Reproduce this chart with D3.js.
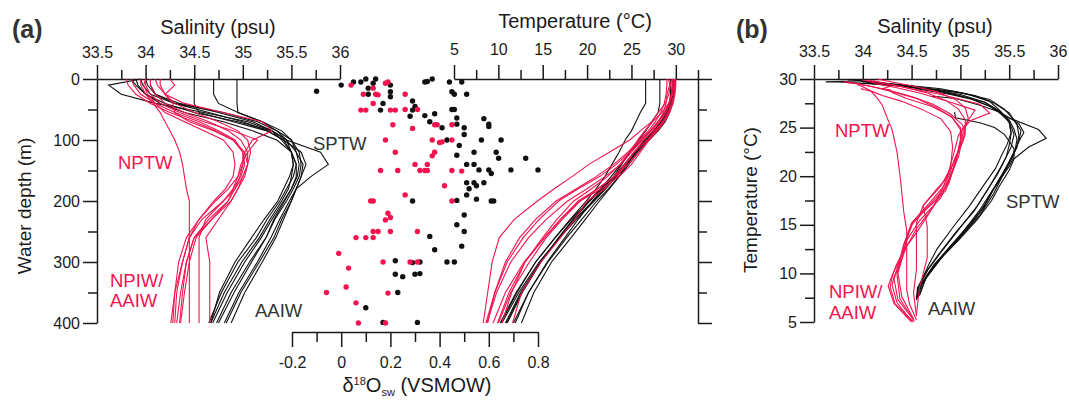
<!DOCTYPE html>
<html>
<head>
<meta charset="utf-8">
<script src="https://cdn.jsdelivr.net/npm/d3@7"></script>
<style>
  body { margin: 0; background: #fff; }
  svg text { font-family: "Liberation Sans", Arial, sans-serif; }
</style>
</head>
<body>
<div id="chart"></div>
<script>
// depth levels (m) shared by all CTD profiles
const depths = [0, 10, 25, 40, 55, 70, 85, 100, 120, 140, 160, 180, 200, 230, 260, 300, 350, 400, 500, 650];

// southern (SPTW) stations - salinity (psu) at each depth level
const blackSal = [
  [33.95, 33.97, 34.05, 34.3, 34.8, 35.15, 35.35, 35.5, 35.58, 35.6, 35.58, 35.52, 35.45, 35.33, 35.24, 35.07, 34.88, 34.73, 34.6, 34.55],
  [33.85, 33.9, 34.0, 34.2, 34.5, 34.95, 35.3, 35.45, 35.55, 35.62, 35.6, 35.55, 35.48, 35.38, 35.29, 35.15, 34.96, 34.81, 34.62, 34.56],
  [34.94, 34.94, 34.94, 34.94, 34.95, 35.2, 35.35, 35.45, 35.5, 35.55, 35.55, 35.5, 35.42, 35.3, 35.19, 35.02, 34.84, 34.69, 34.58, 34.55],
  [34.7, 34.7, 34.7, 34.75, 34.95, 35.2, 35.4, 35.5, 35.55, 35.58, 35.56, 35.5, 35.43, 35.32, 35.24, 35.09, 34.91, 34.75, 34.6, 34.55],
  [34.5, 34.5, 34.5, 34.5, 34.55, 34.9, 35.25, 35.42, 35.5, 35.52, 35.5, 35.47, 35.4, 35.28, 35.17, 34.99, 34.81, 34.67, 34.57, 34.55],
  [34.05, 34.05, 34.1, 34.35, 34.75, 35.1, 35.3, 35.45, 35.8, 35.88, 35.7, 35.55, 35.5, 35.4, 35.32, 35.17, 34.98, 34.83, 34.64, 34.58],
  [33.9, 33.92, 34.0, 34.15, 34.4, 34.8, 35.1, 35.35, 35.5, 35.55, 35.52, 35.45, 35.38, 35.25, 35.14, 34.95, 34.78, 34.65, 34.56, 34.55],
  [33.95, 33.62, 33.75, 34.1, 34.6, 35.05, 35.3, 35.4, 35.5, 35.52, 35.48, 35.42, 35.36, 35.22, 35.09, 34.92, 34.76, 34.67, 34.58, 34.55],
  [34.0, 34.02, 34.1, 34.3, 34.65, 35.0, 35.25, 35.42, 35.6, 35.65, 35.6, 35.55, 35.5, 35.42, 35.34, 35.2, 35.02, 34.88, 34.66, 34.58]
];
// southern stations - temperature (°C)
const blackTemp = [
  [29.8, 29.8, 29.7, 29.5, 29.0, 28.3, 27.5, 26.5, 25.3, 24.2, 23.0, 21.7, 20.3, 18.5, 16.8, 14.8, 12.6, 10.9, 8.9, 7.4],
  [29.9, 29.9, 29.8, 29.6, 29.2, 28.7, 27.9, 26.9, 25.8, 24.7, 23.6, 22.4, 21.1, 19.4, 17.7, 15.6, 13.4, 11.7, 9.2, 7.6],
  [26.6, 26.6, 26.6, 26.6, 26.0, 25.5, 25.0, 24.3, 23.6, 22.8, 22.0, 21.0, 19.9, 18.1, 16.4, 14.2, 12.1, 10.3, 8.6, 7.3],
  [28.2, 28.2, 28.2, 28.2, 28.0, 27.3, 26.6, 25.8, 24.8, 23.8, 22.7, 21.5, 20.2, 18.4, 16.8, 14.8, 12.7, 11.0, 8.8, 7.4],
  [29.4, 29.4, 29.4, 29.3, 29.0, 28.4, 27.6, 26.6, 25.5, 24.4, 23.2, 22.0, 20.7, 18.6, 16.9, 14.6, 12.3, 10.4, 8.6, 7.3],
  [29.6, 29.6, 29.5, 29.3, 28.8, 28.0, 27.2, 26.2, 24.8, 23.9, 23.0, 21.8, 20.6, 19.0, 17.5, 15.5, 13.4, 11.9, 9.4, 7.7],
  [29.9, 29.9, 29.8, 29.6, 29.3, 28.8, 28.0, 27.0, 25.6, 24.3, 23.0, 21.6, 20.2, 18.2, 16.4, 14.2, 12.0, 10.2, 8.5, 7.3],
  [29.8, 29.7, 29.7, 29.5, 29.1, 28.5, 27.7, 26.8, 25.6, 24.5, 23.3, 22.1, 20.8, 18.8, 16.9, 14.7, 12.5, 10.8, 8.7, 7.4],
  [29.7, 29.7, 29.6, 29.4, 29.0, 28.4, 27.6, 26.5, 25.4, 24.5, 23.6, 22.5, 21.4, 19.8, 18.2, 16.0, 14.0, 12.6, 9.8, 7.8]
];

// northern (NPTW) stations - salinity
const redSal = [
  [33.95, 33.95, 34.0, 34.08, 34.15, 34.2, 34.25, 34.3, 34.35, 34.38, 34.4, 34.42, 34.45, 34.45, 34.45, 34.45, 34.45, 34.45, 34.48, 34.55],
  [34.0, 34.0, 34.05, 34.15, 34.35, 34.6, 34.9, 35.15, 35.05, 34.98, 34.95, 34.9, 34.85, 34.68, 34.52, 34.45, 34.4, 34.36, 34.4, 34.52],
  [33.85, 33.88, 33.95, 34.1, 34.3, 34.55, 34.75, 34.92, 35.0, 35.0, 34.95, 34.85, 34.72, 34.55, 34.45, 34.38, 34.32, 34.3, 34.35, 34.5],
  [34.25, 34.3, 34.2, 34.28, 34.3, 34.45, 34.7, 34.9, 35.0, 35.02, 34.98, 34.9, 34.8, 34.58, 34.45, 34.38, 34.3, 34.26, 34.32, 34.5],
  [34.1, 34.12, 34.2, 34.4, 34.8, 35.2, 35.3, 35.1, 35.02, 35.0, 34.97, 34.92, 34.85, 34.65, 34.5, 34.42, 34.38, 34.35, 34.38, 34.52],
  [34.05, 34.05, 34.1, 34.2, 34.4, 34.65, 34.85, 34.98, 35.05, 35.05, 35.0, 34.92, 34.8, 34.62, 34.55, 34.55, 34.55, 34.55, 34.52, 34.55],
  [33.8, 33.82, 33.9, 34.05, 34.25, 34.5, 34.72, 34.9, 35.02, 35.05, 35.02, 34.95, 34.88, 34.75, 34.62, 34.66, 34.66, 34.66, 34.58, 34.55],
  [34.0, 33.98, 34.02, 34.1, 34.2, 34.4, 34.6, 34.8, 34.9, 34.92, 34.9, 34.82, 34.7, 34.55, 34.42, 34.34, 34.3, 34.28, 34.33, 34.52],
  [34.15, 34.15, 34.2, 34.3, 34.5, 34.75, 34.95, 35.05, 35.08, 35.05, 35.0, 34.95, 34.88, 34.68, 34.5, 34.42, 34.36, 34.32, 34.36, 34.53]
];
// northern stations - temperature
const redTemp = [
  [29.5, 29.4, 29.2, 28.8, 28.0, 27.3, 26.0, 24.8, 22.5, 20.2, 18.3, 16.3, 14.4, 11.8, 10.1, 9.3, 8.8, 8.3, 6.8, 5.2],
  [29.9, 29.9, 29.8, 29.5, 29.1, 28.5, 27.6, 26.8, 25.3, 24.2, 23.0, 21.2, 19.2, 17.2, 15.4, 13.5, 11.4, 10.0, 7.6, 5.3],
  [29.6, 29.6, 29.5, 29.2, 28.7, 28.0, 27.1, 26.0, 24.8, 23.3, 21.4, 19.0, 16.8, 14.6, 12.8, 11.0, 9.6, 8.8, 7.0, 5.1],
  [29.2, 29.3, 29.0, 28.9, 28.6, 28.0, 27.2, 26.2, 25.0, 23.8, 22.0, 20.0, 17.8, 15.4, 13.4, 11.4, 9.8, 8.7, 6.9, 5.0],
  [29.8, 29.8, 29.6, 29.2, 28.4, 27.4, 26.5, 25.7, 24.8, 23.7, 22.3, 20.5, 18.5, 16.6, 15.0, 13.0, 11.2, 9.9, 7.4, 5.2],
  [29.9, 29.9, 29.8, 29.6, 29.2, 28.6, 27.8, 26.9, 25.8, 24.6, 23.1, 21.2, 19.0, 17.0, 15.2, 13.0, 11.5, 10.4, 8.0, 5.6],
  [29.7, 29.7, 29.6, 29.3, 28.9, 28.2, 27.4, 26.4, 25.3, 24.3, 23.4, 22.0, 20.0, 18.6, 17.0, 14.8, 12.6, 11.6, 8.5, 5.8],
  [29.0, 29.0, 28.9, 28.7, 28.3, 27.7, 26.9, 25.9, 24.6, 23.0, 21.0, 18.8, 16.5, 14.2, 12.4, 10.8, 9.6, 8.6, 6.9, 5.0],
  [30.0, 30.0, 29.9, 29.7, 29.3, 28.7, 27.9, 27.0, 26.0, 25.0, 23.6, 21.6, 19.2, 17.0, 15.2, 12.9, 10.8, 9.4, 7.3, 5.1]
];

// seawater d18O samples [value (permil VSMOW), depth (m)]
const blackIso = [
  [-0.10, 20], [0.00, 10], [0.05, 5], [0.08, 5], [0.10, 0], [0.13, 7], [0.14, 0], [0.11, 15], [0.11, 25],
  [0.20, 10], [0.20, 21], [0.20, 29], [0.17, 40], [0.16, 51], [0.29, 36], [0.30, 45], [0.29, 51], [0.28, 61],
  [0.34, 5], [0.35, 4], [0.37, 0], [0.44, 5], [0.49, 5], [0.45, 21], [0.46, 25], [0.51, 25], [0.45, 50], [0.46, 50],
  [0.34, 60], [0.38, 57], [0.36, 70], [0.41, 80], [0.47, 64], [0.47, 74], [0.50, 80], [0.50, 91], [0.58, 65], [0.60, 74], [0.60, 78],
  [0.43, 100], [0.57, 100], [0.65, 100], [0.48, 109], [0.54, 120], [0.63, 120], [0.64, 130], [0.75, 130], [0.47, 125],
  [0.51, 140], [0.54, 140], [0.56, 149], [0.60, 149], [0.61, 155], [0.69, 149], [0.80, 149],
  [0.51, 170], [0.54, 170], [0.55, 175], [0.58, 170], [0.52, 180], [0.51, 190], [0.55, 197],
  [0.29, 200], [0.47, 199], [0.61, 200], [0.62, 200], [0.50, 223], [0.47, 239], [0.50, 250], [0.49, 274],
  [0.36, 258], [0.38, 280], [0.43, 300], [0.46, 300], [0.22, 298], [0.29, 301], [0.32, 300],
  [0.22, 320], [0.25, 324], [0.30, 320], [0.32, 319], [0.23, 350], [0.10, 375], [0.17, 399], [0.31, 399]
];
const redIso = [
  [0.04, 10], [0.13, 15], [0.18, 7], [0.19, 5], [0.09, 25], [0.14, 25], [0.15, 26], [0.26, 25], [0.13, 40],
  [0.08, 51], [0.10, 51], [0.20, 51], [0.22, 51], [0.26, 50], [0.31, 50],
  [0.21, 75], [0.29, 81], [0.38, 75], [0.39, 75], [0.45, 75],
  [0.18, 100], [0.37, 100], [0.40, 104], [0.41, 103], [0.45, 100], [0.38, 120], [0.37, 126], [0.22, 120],
  [0.30, 140], [0.35, 140], [0.16, 150], [0.23, 150], [0.32, 150], [0.34, 150], [0.35, 150], [0.45, 150], [0.49, 151],
  [0.42, 175], [0.26, 190], [0.12, 200], [0.13, 200], [0.45, 200], [0.19, 220], [0.20, 227], [0.18, 231],
  [0.13, 250], [0.15, 250], [0.20, 250], [0.31, 250], [0.06, 260], [0.10, 260], [0.13, 260],
  [-0.01, 286], [0.03, 310], [0.17, 300], [0.28, 300], [0.31, 300], [0.02, 341], [-0.06, 350], [0.19, 351],
  [0.06, 367], [0.07, 400], [0.18, 400]
];

// tick values
const salTicks = [33.5, 34, 34.5, 35, 35.5, 36];
const salMinor = [33.75, 34.25, 34.75, 35.25, 35.75];
const tempTicks = [5, 10, 15, 20, 25, 30];
const tempMinor = [7.5, 12.5, 17.5, 22.5, 27.5, 32.5];
const depthTicks = [0, 100, 200, 300, 400];
const depthMinor = [50, 150, 250, 350];
const isoTicks = [-0.2, 0, 0.2, 0.4, 0.6, 0.8];
const isoMinor = [-0.1, 0.1, 0.3, 0.5, 0.7];
const tbMinor = [7.5, 12.5, 17.5, 22.5, 27.5];

const W = 1069, H = 400;
const red = "#f2134f", ink = "#1a1a1a", grey = "#333";

const svg = d3.select("#chart").append("svg")
    .attr("width", W)
    .attr("height", H);

// scales
const yDepth = d3.scaleLinear().domain([0, 400]).range([79, 323]);
const xSal = d3.scaleLinear().domain([33.5, 36]).range([97, 340]);
const xTemp = d3.scaleLinear().domain([5, 32.5]).range([454, 698]);
const xIso = d3.scaleLinear().domain([-0.2, 0.8]).range([292, 538]);
const xSalB = d3.scaleLinear().domain([33.5, 36]).range([814, 1058]);
const yTempB = d3.scaleLinear().domain([5, 30]).range([322, 79]);

const fmt = d => String(d);

function drawAxis(axis, tx, ty, noDomain) {
    const g = svg.append("g").attr("transform", `translate(${tx},${ty})`).call(axis);
    g.selectAll("path, line").attr("stroke", ink).attr("stroke-width", 1.5);
    g.selectAll("text").attr("fill", ink).style("font-size", "16px")
        .style("font-family", "'Liberation Sans', Arial, sans-serif");
    if (noDomain) g.select(".domain").remove();
    return g;
}

// ---- panel (a): salinity vs depth ----
drawAxis(d3.axisTop(xSal).tickValues(salTicks).tickSize(14).tickSizeOuter(0).tickPadding(7).tickFormat(fmt), 0, 79);
drawAxis(d3.axisTop(xSal).tickValues(salMinor).tickSize(9).tickFormat(""), 0, 79, true);
drawAxis(d3.axisLeft(yDepth).tickValues(depthTicks).tickSize(14).tickSizeOuter(0).tickPadding(3).tickFormat(fmt), 97, 0);
drawAxis(d3.axisLeft(yDepth).tickValues(depthMinor).tickSize(9).tickFormat(""), 97, 0, true);

// ---- panel (a): temperature vs depth ----
drawAxis(d3.axisTop(xTemp).tickValues(tempTicks).tickSize(14).tickSizeOuter(0).tickPadding(10).tickFormat(fmt), 0, 79);
drawAxis(d3.axisTop(xTemp).tickValues(tempMinor).tickSize(9).tickFormat(""), 0, 79, true);
drawAxis(d3.axisRight(yDepth).tickValues(depthTicks).tickSize(14).tickSizeOuter(0).tickFormat(""), 698, 0);
drawAxis(d3.axisRight(yDepth).tickValues(depthMinor).tickSize(9).tickFormat(""), 698, 0, true);

// ---- panel (a): d18O axis ----
drawAxis(d3.axisBottom(xIso).tickValues(isoTicks).tickSize(15).tickSizeOuter(0).tickPadding(10).tickFormat(fmt), 0, 332);
drawAxis(d3.axisBottom(xIso).tickValues(isoMinor).tickSize(10).tickFormat(""), 0, 332, true);

// ---- panel (b): T-S ----
drawAxis(d3.axisTop(xSalB).tickValues(salTicks).tickSize(14).tickSizeOuter(0).tickPadding(8).tickFormat(fmt), 0, 79);
drawAxis(d3.axisTop(xSalB).tickValues(salMinor).tickSize(9).tickFormat(""), 0, 79, true);
drawAxis(d3.axisLeft(yTempB).tickValues(tempTicks).tickSize(14).tickSizeOuter(0).tickPadding(3).tickFormat(fmt), 814, 0);
drawAxis(d3.axisLeft(yTempB).tickValues(tbMinor).tickSize(9).tickFormat(""), 814, 0, true);

// profiles
function profile(vals) {
    return depths.map((d, i) => [d, vals[i]]);
}
const salLine = d3.line().x(p => xSal(p[1])).y(p => yDepth(p[0]));
const tempLine = d3.line().x(p => xTemp(p[1])).y(p => yDepth(p[0]));
const tsLine = d3.line().x(p => xSalB(p[0])).y(p => yTempB(p[1]));

function drawProfiles(salSet, tempSet, color, width) {
    salSet.forEach(s => {
        svg.append("path")
            .datum(profile(s).filter(p => p[0] <= 400))
            .attr("d", salLine)
            .attr("fill", "none").attr("stroke", color).attr("stroke-width", width);
    });
    tempSet.forEach(t => {
        svg.append("path")
            .datum(profile(t).filter(p => p[0] <= 400))
            .attr("d", tempLine)
            .attr("fill", "none").attr("stroke", color).attr("stroke-width", width);
    });
    // T-S diagram uses every level, including the deeper ones
    salSet.forEach((s, k) => {
        svg.append("path")
            .datum(s.map((v, i) => [v, tempSet[k][i]]))
            .attr("d", tsLine)
            .attr("fill", "none").attr("stroke", color).attr("stroke-width", width);
    });
}
drawProfiles(blackSal, blackTemp, "#111", 1.1);
drawProfiles(redSal, redTemp, red, 1.1);

// d18O dots
svg.append("g").selectAll("circle")
    .data(blackIso).enter().append("circle")
    .attr("cx", d => xIso(d[0])).attr("cy", d => yDepth(d[1]))
    .attr("r", 2.7).attr("fill", "#111");
svg.append("g").selectAll("circle")
    .data(redIso).enter().append("circle")
    .attr("cx", d => xIso(d[0])).attr("cy", d => yDepth(d[1]))
    .attr("r", 2.7).attr("fill", red);

// titles
function label(x, y, txt, opts = {}) {
    const t = svg.append("text")
        .attr("x", x).attr("y", y)
        .attr("text-anchor", opts.anchor || "start")
        .attr("fill", opts.color || ink)
        .style("font-size", (opts.size || 20) + "px")
        .style("font-weight", opts.bold ? "bold" : "normal")
        .text(txt);
    if (opts.rotate) t.attr("transform", `rotate(-90,${x},${y})`);
    return t;
}
label(12, 38, "(a)", { size: 25, bold: true, color: grey });
label(736, 38, "(b)", { size: 25, bold: true, color: grey });
label(218, 34, "Salinity (psu)", { anchor: "middle" });
label(575, 28, "Temperature (°C)", { anchor: "middle" });
label(935, 33, "Salinity (psu)", { anchor: "middle" });
label(31, 206, "Water depth (m)", { anchor: "middle", rotate: true, size: 19 });
label(757, 200, "Temperature (°C)", { anchor: "middle", rotate: true, size: 19 });

// d18O axis title with super/subscript
const iso = svg.append("text")
    .attr("x", 417).attr("y", 392)
    .attr("text-anchor", "middle")
    .attr("fill", ink)
    .style("font-size", "20px");
iso.append("tspan").text("δ");
iso.append("tspan").attr("dy", -7).style("font-size", "11px").text("18");
iso.append("tspan").attr("dy", 7).text("O");
iso.append("tspan").attr("dy", 4).style("font-size", "11px").text("sw");
iso.append("tspan").attr("dy", -4).text(" (VSMOW)");

// water mass annotations
const ann = 18.5;
label(313, 150, "SPTW", { size: ann, color: grey });
label(118, 169, "NPTW", { size: ann, color: red });
label(110, 287, "NPIW/", { size: ann, color: red });
label(110, 307, "AAIW", { size: ann, color: red });
label(255, 317, "AAIW", { size: ann, color: grey });
label(835, 137, "NPTW", { size: ann, color: red });
label(1006, 208, "SPTW", { size: ann, color: grey });
label(829, 298, "NPIW/", { size: ann, color: red });
label(829, 319, "AAIW", { size: ann, color: red });
label(928, 315, "AAIW", { size: ann, color: grey });
</script>
</body>
</html>
